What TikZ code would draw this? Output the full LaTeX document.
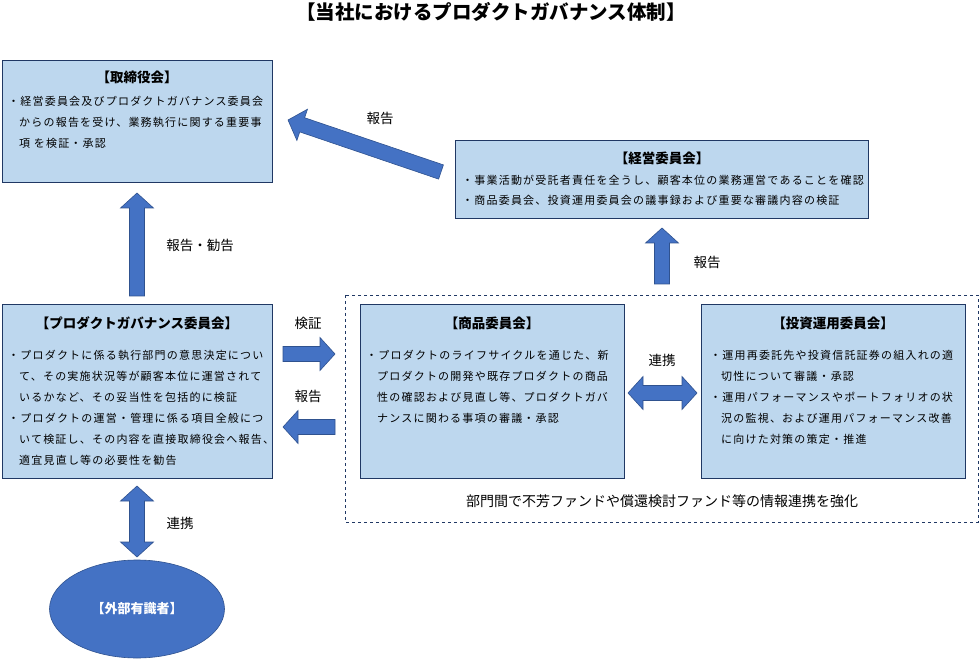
\documentclass[tikz,border=0pt]{standalone}
\usepackage{fontspec}
\setmainfont{Noto Sans CJK JP}
\newfontfamily\jtext[LetterSpace=11]{Noto Sans CJK JP}
\usetikzlibrary{calc,shapes.geometric}

\definecolor{boxfill}{HTML}{BDD7EE}
\definecolor{boxline}{HTML}{203864}
\definecolor{arrfill}{HTML}{4472C4}
\definecolor{arrline}{HTML}{2F528F}

\tikzset{
  box/.style={draw=boxline, fill=boxfill, line width=0.8pt, inner sep=0pt, anchor=north west},
  boxtitle/.style={font=\fontsize{13.5}{15}\selectfont\bfseries},
  boxtext/.style={font=\jtext\fontsize{11}{21}\selectfont, align=left, anchor=north west, inner sep=0pt},
  lbl/.style={font=\fontsize{13.5}{15}\selectfont},
  blockarr/.style={draw=arrline, fill=arrfill, line width=0.6pt, line join=miter}
}

% block arrow from #1 to #2
\newcommand{\blockarrow}[2]{%
  \draw[blockarr] ($(#1)!7.5pt!90:(#2)$) -- ($(#2)!15pt!(#1)!7.5pt!270:(#1)$)
    -- ($(#2)!15pt!(#1)!16.5pt!270:(#1)$) -- (#2)
    -- ($(#2)!15pt!(#1)!16.5pt!90:(#1)$) -- ($(#2)!15pt!(#1)!7.5pt!90:(#1)$)
    -- ($(#1)!7.5pt!270:(#2)$) -- cycle;}
% block arrow with two heads
\newcommand{\dblarrow}[2]{%
  \draw[blockarr] (#1) -- ($(#1)!15pt!(#2)!16.5pt!90:(#2)$) -- ($(#1)!15pt!(#2)!7.5pt!90:(#2)$)
    -- ($(#2)!15pt!(#1)!7.5pt!270:(#1)$) -- ($(#2)!15pt!(#1)!16.5pt!270:(#1)$) -- (#2)
    -- ($(#2)!15pt!(#1)!16.5pt!90:(#1)$) -- ($(#2)!15pt!(#1)!7.5pt!90:(#1)$)
    -- ($(#1)!15pt!(#2)!7.5pt!270:(#2)$) -- ($(#1)!15pt!(#2)!16.5pt!270:(#2)$) -- cycle;}

\begin{document}
\begin{tikzpicture}[x=1pt, y=-1pt]
  \useasboundingbox (0,0) rectangle (980,660);
  % Title
  \node[font=\fontsize{19.5}{21}\selectfont\bfseries] (title) at (491,12) {【当社におけるプロダクトガバナンス体制】};

  % Board
  \node[box, minimum width=270pt, minimum height=122pt] (bod) at (2,60) {};
  \node[boxtitle] (bodT) at (137,77) {【取締役会】};
  \node[boxtext] (bodL) at (8,96) {・経営委員会及びプロダクトガバナンス委員会\\
    \phantom{・}からの報告を受け、業務執行に関する重要事\\
    \phantom{・}項 を検証・承認};

  % Management committee
  \node[box, minimum width=413pt, minimum height=78pt] (mgmt) at (455,140) {};
  \node[boxtitle] (mgmtT) at (662,158) {【経営委員会】};
  \node[boxtext, font=\jtext\fontsize{11}{20}\selectfont] (mgmtL) at (462,175) {・事業活動が受託者責任を全うし、顧客本位の業務運営であることを確認\\
    ・商品委員会、投資運用委員会の議事録および重要な審議内容の検証};

  % Product governance committee
  \node[box, minimum width=270pt, minimum height=174pt] (pg) at (2,304) {};
  \node[boxtitle] (pgT) at (137,323) {【プロダクトガバナンス委員会】};
  \node[boxtext] (pgL) at (8,350) {・プロダクトに係る執行部門の意思決定につい\\
    \phantom{・}て、その実施状況等が顧客本位に運営されて\\
    \phantom{・}いるかなど、その妥当性を包括的に検証\\
    ・プロダクトの運営・管理に係る項目全般につ\\
    \phantom{・}いて検証し、その内容を直接取締役会へ報告、\\
    \phantom{・}適宜見直し等の必要性を勧告};

  % Departments
  \draw[boxline, dashed, line width=0.6pt] (345,295) rectangle (978,522);
  \node[font=\fontsize{14}{16}\selectfont] (dept) at (662,501) {部門間で不芳ファンドや償還検討ファンド等の情報連携を強化};

  \node[box, minimum width=264pt, minimum height=174pt] (prod) at (360,304) {};
  \node[boxtitle] (prodT) at (492,323) {【商品委員会】};
  \node[boxtext] (prodL) at (366,350) {・プロダクトのライフサイクルを通じた、新\\
    \phantom{・}プロダクトの開発や既存プロダクトの商品\\
    \phantom{・}性の確認および見直し等、プロダクトガバ\\
    \phantom{・}ナンスに関わる事項の審議・承認};

  \node[box, minimum width=264pt, minimum height=174pt] (inv) at (701,304) {};
  \node[boxtitle] (invT) at (833,323) {【投資運用委員会】};
  \node[boxtext] (invL) at (710,350) {・運用再委託先や投資信託証券の組入れの適\\
    \phantom{・}切性について審議・承認\\
    ・運用パフォーマンスやポートフォリオの状\\
    \phantom{・}況の監視、および運用パフォーマンス改善\\
    \phantom{・}に向けた対策の策定・推進};

  % Outside experts
  \node[ellipse, draw=arrline, fill=arrfill, line width=0.6pt, minimum width=175pt, minimum height=98pt, inner sep=0pt,
        text=white, font=\fontsize{13}{15}\selectfont\bfseries] (ext) at (137,609) {【外部有識者】};

  % Arrows
  \coordinate (mgmtOut) at (441,172);
  \coordinate (bodIn)   at (288,120);
  \coordinate (pgOut)   at (137,296);
  \coordinate (bodIn2)  at (137,193);
  \coordinate (pgR)     at (283,354);
  \coordinate (deptL)   at (335,354);
  \coordinate (deptL2)  at (335,427);
  \coordinate (pgR2)    at (283,427);
  \coordinate (deptT)   at (662,284);
  \coordinate (mgmtIn)  at (662,228);
  \coordinate (prodR)   at (628,393);
  \coordinate (invL)    at (697,393);
  \coordinate (pgB)     at (137,486);
  \coordinate (extT)    at (137,557);

  \blockarrow{mgmtOut}{bodIn}
  \blockarrow{pgOut}{bodIn2}
  \blockarrow{pgR}{deptL}
  \blockarrow{deptL2}{pgR2}
  \blockarrow{deptT}{mgmtIn}
  \dblarrow{prodR}{invL}
  \dblarrow{pgB}{extT}

  % Labels
  \node[lbl] (l1) at (380,118) {報告};
  \node[lbl] (l2) at (200,245) {報告・勧告};
  \node[lbl] (l3) at (308,323) {検証};
  \node[lbl] (l4) at (308,396) {報告};
  \node[lbl] (l5) at (707,262) {報告};
  \node[lbl] (l6) at (662,360) {連携};
  \node[lbl] (l7) at (180,523) {連携};
\end{tikzpicture}
\end{document}
